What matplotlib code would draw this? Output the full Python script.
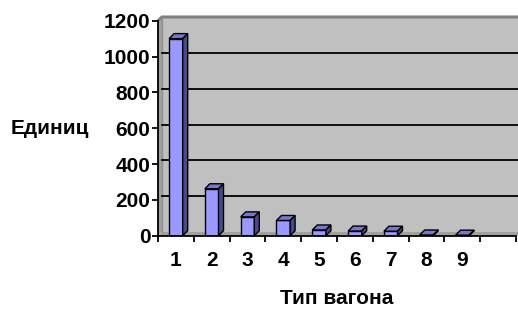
import matplotlib
matplotlib.use("Agg")
import matplotlib.pyplot as plt
from matplotlib.patches import Polygon

# data
categories = [1, 2, 3, 4, 5, 6, 7, 8, 9]
values = [1100, 262, 105, 85, 32, 26, 25, 4, 3]
n_slots = 10          # Excel left one empty category on the right
y_ticks = [0, 200, 400, 600, 800, 1000, 1200]

plt.rcParams['font.family'] = ['Liberation Sans', 'DejaVu Sans']

fig = plt.figure(figsize=(5.18, 3.09), dpi=100)
ax = fig.add_axes([158 / 518, 1 - 235.7 / 309, 358 / 518, 215 / 309])
ax.set_xlim(0.5, n_slots + 0.5)
ax.set_ylim(0, 1200)

# pixel -> data conversions for the fake 3d depth
px_x = (n_slots) / 358.0
px_y = 1200 / 215.0
wdx, wdy = 4 * px_x, 3.7 * px_y     # wall depth
bdx, bdy = 5 * px_x, 5 * px_y       # bar depth

x0, x1 = 0.5, n_slots + 0.5

# floor and left side wall
ax.add_patch(Polygon([(x0, 0), (x1 + 1, 0), (x1 + 1 + wdx, wdy), (x0 + wdx, wdy)],
                     closed=True, fc='#A0A0A0', ec='none', clip_on=False, zorder=0))
ax.add_patch(Polygon([(x0, 0), (x0, 1200), (x0 + wdx, 1200 + wdy), (x0 + wdx, wdy)],
                     closed=True, fc='#A0A0A0', ec='none', clip_on=False, zorder=0))
# back wall
ax.add_patch(Polygon([(x0 + wdx, wdy), (x1 + 1, wdy), (x1 + 1, 1200 + wdy), (x0 + wdx, 1200 + wdy)],
                     closed=True, fc='#C0C0C0', ec='none', clip_on=False, zorder=0))
ax.plot([x0, x0 + wdx, x1 + 1], [1200, 1200 + wdy, 1200 + wdy], color='#808080',
        lw=2.2, clip_on=False, zorder=1, solid_capstyle='butt')
ax.plot([x0 + wdx, x0 + wdx], [wdy, 1200 + wdy], color='#909090', lw=1.0, clip_on=False, zorder=1)

# gridlines on the back wall
for t in y_ticks[1:-1]:
    ax.plot([x0 + wdx, x1 + 1], [t + wdy, t + wdy], color='black', lw=1.3,
            clip_on=False, zorder=1)

# bars: front faces, then top and side faces
w = 0.38
ax.bar(categories, values, width=w, color='#9999FF', edgecolor='black', linewidth=1.0, zorder=3)
for c, v in zip(categories, values):
    l, r = c - w / 2, c + w / 2
    ax.add_patch(Polygon([(l, v), (r, v), (r + bdx, v + bdy), (l + bdx, v + bdy)],
                         closed=True, fc='#7777CC', ec='black', lw=1.0, zorder=3))
    ax.add_patch(Polygon([(r, 0), (r, v), (r + bdx, v + bdy), (r + bdx, bdy)],
                         closed=True, fc='#48488C', ec='black', lw=1.0, zorder=3))

for s in ['top', 'right']:
    ax.spines[s].set_visible(False)
for s in ['left', 'bottom']:
    ax.spines[s].set_linewidth(1.3)
    ax.spines[s].set_zorder(4)
ax.spines['bottom'].set_bounds(x0, x1)

fs = 15
ax.set_yticks(y_ticks)
ax.set_yticklabels([str(t) for t in y_ticks], fontsize=fs, fontweight='bold')
ax.set_xticks([i + 0.5 for i in range(n_slots + 1)])
ax.set_xticklabels([])
ax.set_xticks(list(range(1, n_slots + 1)), minor=True)
ax.set_xticklabels([str(c) for c in categories] + [''], minor=True,
                   fontsize=fs, fontweight='bold')
ax.tick_params(axis='x', which='major', direction='out', length=4, width=1.3)
ax.tick_params(axis='x', which='minor', length=0, pad=11)
ax.tick_params(axis='y', direction='out', length=4, width=1.3, pad=1.5)

ax.set_xlabel('Тип вагона', fontsize=fs, fontweight='bold', labelpad=14)
ax.set_ylabel('Единиц', fontsize=fs, fontweight='bold', rotation=0, va='center', ha='center')
ax.yaxis.set_label_coords((50 - 158) / 358, (235.7 - 129) / 215)

fig.savefig('out.png', dpi=100)
